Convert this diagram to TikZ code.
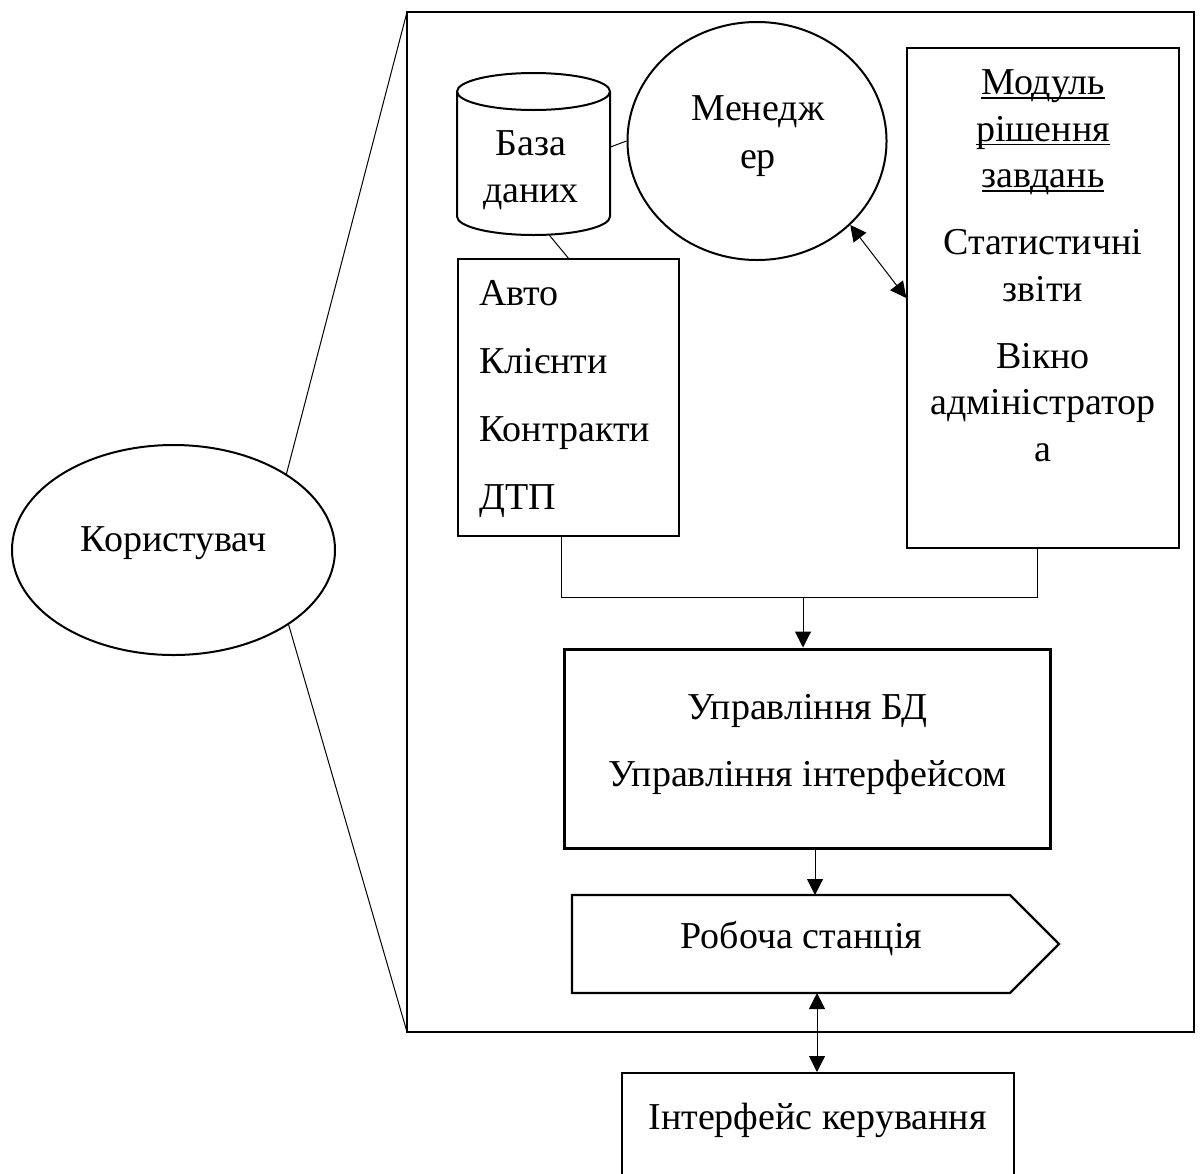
\documentclass[tikz,border=0pt]{standalone}
\usepackage{fontspec}
\setmainfont{Liberation Serif}
\usetikzlibrary{arrows.meta,shapes.geometric}
\newcommand\myul[1]{\setbox0\hbox{#1}\rlap{\rule[-2pt]{\wd0}{0.7pt}}#1}
\begin{document}
\begin{tikzpicture}[x=0.5pt,y=0.5pt,
  thinline/.style={line width=0.5pt},
  arr/.style={line width=0.5pt,-{Triangle[length=8pt,width=8pt]}},
  arrr/.style={line width=0.5pt,{Triangle[length=8pt,width=8pt]}-{Triangle[length=8pt,width=8pt]}},
  txt/.style={font=\fontsize{19}{23.25}\selectfont, inner sep=0pt, align=center},
  box/.style={draw, inner sep=0pt},
]
\useasboundingbox (0,0) rectangle (1202,-1173);
\clip (0,0) rectangle (1202,-1173);

% user ellipse
\node[ellipse, draw, line width=1pt, minimum width=161.5pt, minimum height=105pt, inner sep=0pt] (user) at (173.5,-550) {};
\node[txt, anchor=base] (usertxt) at (173.5,-551) {Користувач};

% big frame
\draw[line width=1.1pt] (407,-12) coordinate (bigTL) rectangle (1194,-1032);
\coordinate (bigBL) at (407,-1032);
\draw[thinline] (user.34) -- (bigTL);
\draw[thinline] (user.-33) -- (bigBL);

% database cylinder
\node[inner sep=0pt, minimum width=76.5pt, minimum height=81pt] (db) at (533.5,-154) {};
\draw[line width=1pt] (457,-91.5) -- (457,-216.5) arc[start angle=180, end angle=360, x radius=38.25pt, y radius=9.25pt] -- (610,-91.5);
\draw[line width=1pt] (533.5,-91.5) ellipse [x radius=38.25pt, y radius=9.25pt];
\node[txt, anchor=base] (dbtxt) at (531,-202) {База\\даних};

% manager
\node[ellipse, draw, line width=1pt, minimum width=129.5pt, minimum height=119pt, inner sep=0pt] (mgr) at (757,-141) {};
\node[txt, anchor=base, font=\fontsize{19}{23.75}\selectfont] (mgrtxt) at (758,-168) {Менедж\\ер};

% tables box
\node[box, line width=0.7pt, minimum width=110.5pt, minimum height=138.5pt] (avto) at (568.5,-397.5) {};
\node[txt, anchor=base west, align=left, font=\fontsize{19}{33.85}\selectfont] (avtotxt) at (479,-509) {Авто\\Клієнти\\Контракти\\ДТП};

% module box
\node[box, line width=0.7pt, minimum width=136pt, minimum height=250pt] (mod) at (1043,-298) {};
\node[txt, anchor=base] (modtxt) at (1043,-461) {\myul{Модуль}\\\myul{рішення}\\\myul{завдань}\\[10.25pt]Статистичні\\звіти\\[10.25pt]Вікно\\адміністратор\\а};

% management box
\node[box, line width=1.5pt, minimum width=243pt, minimum height=99.5pt] (upr) at (807,-748.5) {};
\node[txt, anchor=base, font=\fontsize{19}{33.5}\selectfont] (uprtxt) at (807.5,-786) {Управління БД\\Управління інтерфейсом};

% workstation
\draw[line width=1.2pt] (572,-895) -- (1010,-895) -- (1059,-944) -- (1010,-993) -- (572,-993) -- cycle;
\node[txt, anchor=base] (ws) at (801.5,-948) {Робоча станція};
\coordinate (wsT) at (815,-895);
\coordinate (wsB) at (817,-993);

% interface box
\node[box, line width=1.2pt, minimum width=196pt, minimum height=70pt, anchor=north] (iface) at (818,-1072) {};
\node[txt, anchor=base] (ifacetxt) at (817.5,-1129) {Інтерфейс керування};

% connectors
\draw[thinline] ([yshift=3.5pt]db.east) -- (mgr.west);
\draw[thinline] ([xshift=8pt]db.south) -- (avto.north);
\draw[arrr] (mgr.-42) -- (mod.west);
\coordinate (j1) at (561,-597);
\coordinate (j2) at (1037,-597);
\coordinate (j3) at (803,-597);
\draw[thinline] (avto.south -| j1) -- (j1) -- (j2) -- (mod.south -| j2);
\draw[arr] (j3) -- (j3 |- upr.north);
\draw[arr] (upr.south -| wsT) -- (wsT);
\draw[arrr] (wsB) -- (wsB |- iface.north);
\end{tikzpicture}
\end{document}
